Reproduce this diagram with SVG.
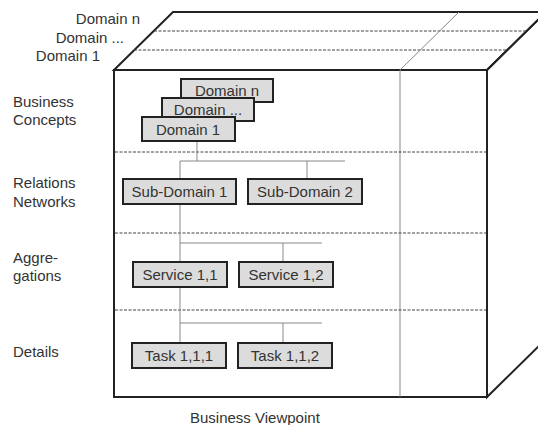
<svg xmlns="http://www.w3.org/2000/svg" width="538" height="425" viewBox="0 0 538 425">
<style>
text{font-family:"Liberation Sans",Arial,sans-serif;font-size:15px;fill:#333}
.edge{stroke:#222;stroke-width:2;fill:none}
.dash{stroke:#444;stroke-width:1;stroke-dasharray:3,1.5;fill:none}
.thin{stroke:#888;stroke-width:1;fill:none}
.box{fill:#dcdcdc;stroke:#222;stroke-width:2}
.c{text-anchor:middle}
.r{text-anchor:end}
</style>
<rect width="538" height="425" fill="#fff"/>
<g id="cube">
<polygon points="114,70 173,12 546,12 487,70" fill="#fff" class="edge"/>
<polygon points="487,70 546,12 546,339 487,397" fill="#c9c9c9" class="edge"/>
<rect x="114" y="70" width="373" height="327" fill="#fff" class="edge"/>
<line class="dash" x1="154" y1="31" x2="527" y2="31"/>
<line class="dash" x1="134" y1="50" x2="507" y2="50"/>
<line class="thin" x1="400" y1="70" x2="400" y2="397"/>
<line class="thin" x1="400" y1="70" x2="459" y2="12"/>
<line class="dash" x1="115" y1="152" x2="486" y2="152"/>
<line class="dash" x1="115" y1="233" x2="486" y2="233"/>
<line class="dash" x1="115" y1="310" x2="486" y2="310"/>
</g>
<g id="labels">
<text class="r" x="140" y="24">Domain n</text>
<text class="r" x="124" y="43">Domain ...</text>
<text class="r" x="100" y="61">Domain 1</text>
<text x="13" y="107">Business</text>
<text x="13" y="125">Concepts</text>
<text x="13" y="188">Relations</text>
<text x="13" y="207">Networks</text>
<text x="13" y="263">Aggre-</text>
<text x="13" y="281">gations</text>
<text x="13" y="357">Details</text>
<text x="190" y="423">Business Viewpoint</text>
</g>
<g id="connectors">
<polyline class="thin" points="197,141 197,161"/>
<polyline class="thin" points="180,179 180,161 345,161"/>
<polyline class="thin" points="307,161 307,179"/>
<polyline class="thin" points="180,204 180,262"/>
<polyline class="thin" points="180,243 322,243"/>
<polyline class="thin" points="283,243 283,262"/>
<polyline class="thin" points="180,287 180,343"/>
<polyline class="thin" points="180,323 322,323"/>
<polyline class="thin" points="283,323 283,343"/>
</g>
<g id="domain-n"><rect class="box" x="181" y="79" width="92" height="23"/><text class="c" x="227" y="96">Domain n</text></g>
<g id="domain-dots"><rect class="box" x="162" y="98" width="92" height="23"/><text class="c" x="208" y="115">Domain ...</text></g>
<g id="domain-1"><rect class="box" x="142" y="117" width="93" height="24"/><text class="c" x="188" y="134.5">Domain 1</text></g>
<g id="sub-domain-1"><rect class="box" x="123" y="179" width="113" height="25"/><text class="c" x="179.5" y="197">Sub-Domain 1</text></g>
<g id="sub-domain-2"><rect class="box" x="248" y="179" width="114" height="25"/><text class="c" x="305" y="197">Sub-Domain 2</text></g>
<g id="service-1-1"><rect class="box" x="133" y="262" width="94" height="25"/><text class="c" x="180" y="280">Service 1,1</text></g>
<g id="service-1-2"><rect class="box" x="239" y="262" width="94" height="25"/><text class="c" x="286" y="280">Service 1,2</text></g>
<g id="task-1-1-1"><rect class="box" x="132" y="343" width="94" height="25"/><text class="c" x="179" y="361">Task 1,1,1</text></g>
<g id="task-1-1-2"><rect class="box" x="238" y="343" width="94" height="25"/><text class="c" x="285" y="361">Task 1,1,2</text></g>
</svg>
